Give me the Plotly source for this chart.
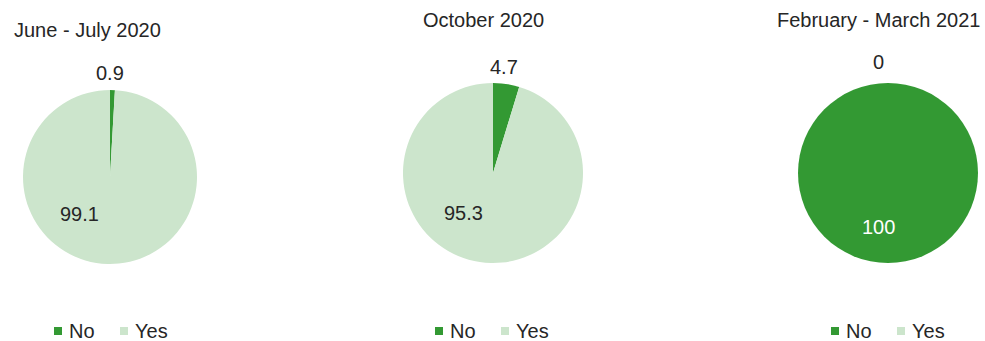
import plotly.graph_objects as go

# Survey responses per period (percent)
periods = ["June - July 2020", "October 2020", "February - March 2021"]
answers = ["No", "Yes"]
no_share = [0.9, 4.7, 100]
yes_share = [99.1, 95.3, 0]

colors = ["#339933", "#cce5cc"]
text_dark = "#262626"
font_family = "Liberation Sans, Arial, sans-serif"
fsize = 20

W, H = 985, 341


def px(x):
    return x / W


def py(y):
    return 1 - y / H


# pie geometry in pixels: centre x, centre y, radius
pies = [(110, 177, 87), (493, 173, 90), (888, 173, 90)]
# title placement: x, y, anchor
titles = [(12, 30, "left"), (483, 20, "center"), (878, 20, "center")]
# value label positions: outside (minority) and inside (majority)
outer_lbl = [(110, 73), (504, 67), (878, 62)]
inner_lbl = [(79, 214), (463, 213), (878, 227)]
# legend origin (x of first square)
legend_x = [58, 439, 835]
legend_y = 331

fig = go.Figure()
annotations = []
shapes = []

for i, name in enumerate(periods):
    cx, cy, r = pies[i]
    vals = [no_share[i], yes_share[i]]
    fig.add_trace(go.Pie(
        labels=answers,
        values=vals,
        sort=False,
        direction="clockwise",
        rotation=0,
        marker=dict(colors=colors, line=dict(width=0)),
        textinfo="none",
        hoverinfo="label+value",
        showlegend=False,
        domain=dict(x=[px(cx - r), px(cx + r)], y=[py(cy + r), py(cy - r)]),
    ))

    tx, ty, anchor = titles[i]
    annotations.append(dict(
        text=name, x=px(tx), y=py(ty), xref="paper", yref="paper",
        xanchor=anchor, yanchor="middle", showarrow=False,
        font=dict(size=fsize, color=text_dark, family=font_family),
    ))

    # small slice label outside, large slice label inside
    small_idx = 0 if vals[0] <= vals[1] else 1
    big_idx = 1 - small_idx
    ox, oy = outer_lbl[i]
    annotations.append(dict(
        text=f"{vals[small_idx]:g}", x=px(ox), y=py(oy), xref="paper", yref="paper",
        xanchor="center", yanchor="middle", showarrow=False,
        font=dict(size=fsize, color=text_dark, family=font_family),
    ))
    ix, iy = inner_lbl[i]
    inner_color = "#ffffff" if big_idx == 0 else text_dark
    annotations.append(dict(
        text=f"{vals[big_idx]:g}", x=px(ix), y=py(iy), xref="paper", yref="paper",
        xanchor="center", yanchor="middle", showarrow=False,
        font=dict(size=fsize, color=inner_color, family=font_family),
    ))

    # legend: square + label for each answer
    lx = legend_x[i]
    offsets = [0, 66]
    for k, ans in enumerate(answers):
        sx = lx + offsets[k]
        shapes.append(dict(
            type="rect", xref="paper", yref="paper",
            x0=px(sx - 4), x1=px(sx + 4), y0=py(legend_y + 4), y1=py(legend_y - 4),
            fillcolor=colors[k], line=dict(width=0),
        ))
        annotations.append(dict(
            text=ans, x=px(sx + 9), y=py(legend_y), xref="paper", yref="paper",
            xanchor="left", yanchor="middle", showarrow=False,
            font=dict(size=fsize, color=text_dark, family=font_family),
        ))

fig.update_layout(
    width=W, height=H,
    margin=dict(l=0, r=0, t=0, b=0),
    paper_bgcolor="white",
    plot_bgcolor="white",
    annotations=annotations,
    shapes=shapes,
)

fig.write_html("out.html")
